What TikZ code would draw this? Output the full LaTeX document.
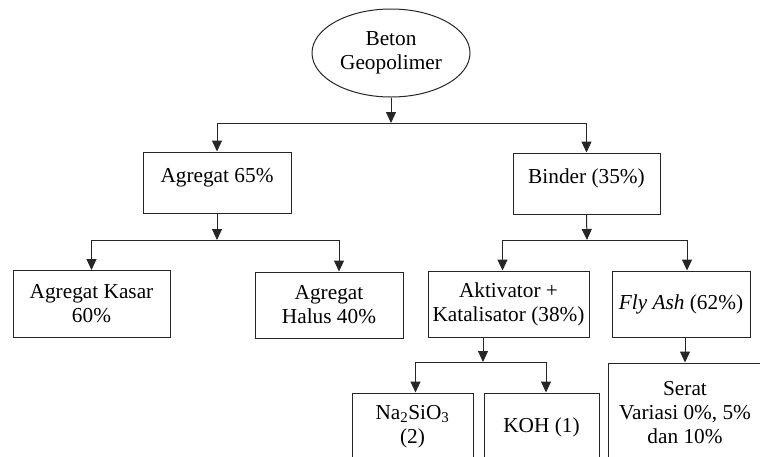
\documentclass[tikz,border=0pt]{standalone}
\usepackage{fontspec}
\setmainfont{Liberation Serif}
\usetikzlibrary{arrows.meta,shapes.geometric}

\begin{document}
\begin{tikzpicture}[x=1pt, y=-1pt, line width=1pt, draw=black!85,
    font=\fontsize{21.3}{24}\selectfont,
    box/.style={draw, rectangle, align=center, inner sep=0pt},
    arr/.style={-{Triangle[width=10pt,length=11pt]}}]
        \clip(0,0)rectangle(760,456);
        % root
        \node[draw, ellipse, minimum width=158pt, minimum height=88pt, inner sep=0pt, align=center](geo)at(391,53){Beton\\Geopolimer};
        % level 1
        \node[box, minimum width=148pt, minimum height=61pt, text depth=14pt](agg)at(217,182.5){Agregat 65\%};
        \node[box, minimum width=147pt, minimum height=61pt, text depth=14pt](bind)at(586.5,183.5){Binder (35\%)};
        % level 2
        \node[box, minimum width=157pt, minimum height=67pt](kasar)at(91.5,304){Agregat Kasar\\60\%};
        \node[box, minimum width=148pt, minimum height=66pt](halus)at(329,305){Agregat\\Halus 40\%};
        \node[box, minimum width=161pt, minimum height=66pt](akt)at(508.5,304){Aktivator +\\Katalisator (38\%)};
        \node[box, minimum width=138pt, minimum height=66pt](fly)at(681,304){\textit{Fly Ash} (62\%)};
        % level 3
        \node[box, minimum width=121pt, minimum height=68pt](na)at(412.5,427){Na\textsubscript{2}SiO\textsubscript{3}\\(2)};
        \node[box, minimum width=115pt, minimum height=68pt](koh)at(541.5,427){KOH (1)};
        \node[box, minimum width=154pt, minimum height=100pt](serat)at(685,413){Serat\\Variasi 0\%, 5\%\\dan 10\%};
        % junctions
        \coordinate(j0)at(391,123);
        \coordinate(j1)at(217,240);
        \coordinate(j2)at(587,240);
        \coordinate(j3)at(483,362);
        % connectors
        \path[draw, arr](geo.south)to(j0);
        \path[draw, arr](j0)-|(agg.north);
        \path[draw, arr](j0)-|(bind.north);
        \path[draw, arr](agg.south)to(j1);
        \path[draw, arr](j1)-|(kasar.north);
        \path[draw, arr](j1)-|([xshift=10pt]halus.north);
        \path[draw, arr](bind.south)to(j2);
        \path[draw, arr](j2)-|([xshift=-6pt]akt.north);
        \path[draw, arr](j2)-|([xshift=6pt]fly.north);
        \path[draw, arr]([xshift=-25.5pt]akt.south)to(j3);
        \path[draw, arr](j3)-|([xshift=3pt]na.north);
        \path[draw, arr](j3)-|([xshift=4.5pt]koh.north);
        \path[draw, arr]([xshift=4pt]fly.south)to(serat.north);
\end{tikzpicture}
\end{document}
